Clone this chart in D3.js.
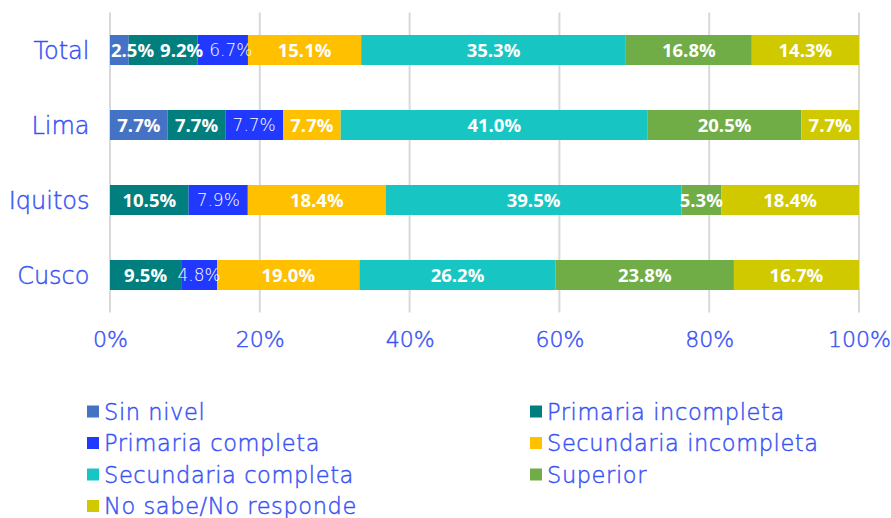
<!DOCTYPE html>
<html>
<head>
<meta charset="utf-8">
<script src="https://cdn.jsdelivr.net/npm/d3@7/dist/d3.min.js"></script>
<style>
  html, body { margin: 0; padding: 0; background: #fff; }
  svg { display: block; }
</style>
</head>
<body>
<svg id="chart" width="891" height="518"></svg>
<script>
// ---- data ----
const categories = ["Total", "Lima", "Iquitos", "Cusco"];
const seriesNames = ["Sin nivel", "Primaria incompleta", "Primaria completa",
  "Secundaria incompleta", "Secundaria completa", "Superior", "No sabe/No responde"];
const sinNivel = [2.5, 7.7, 0, 0];
const primariaIncompleta = [9.2, 7.7, 10.5, 9.5];
const primariaCompleta = [6.7, 7.7, 7.9, 4.8];
const secundariaIncompleta = [15.1, 7.7, 18.4, 19.0];
const secundariaCompleta = [35.3, 41.0, 39.5, 26.2];
const superior = [16.8, 20.5, 5.3, 23.8];
const noSabe = [14.3, 7.7, 18.4, 16.7];
const tickLabels = ["0%", "20%", "40%", "60%", "80%", "100%"];

const seriesValues = [sinNivel, primariaIncompleta, primariaCompleta,
  secundariaIncompleta, secundariaCompleta, superior, noSabe];
const colors = ["#4472C4", "#007F7E", "#2139FF", "#FFC000", "#17C6C3", "#70AD47", "#D1C900"];
const textBlue = "#3852F6";
const thinFont = "'DejaVu Sans', 'Noto Sans', sans-serif";

const svg = d3.select("#chart");
const margin = {left: 110, right: 32, top: 12.5, bottom: 205.5};
const W = 891, H = 518;
const x = d3.scaleLinear().domain([0, 1]).range([margin.left, W - margin.right]);
const y = d3.scaleBand().domain(categories).range([margin.top, H - margin.bottom]).paddingInner(0.6).paddingOuter(0.3);

function blueText(sel, size) {
  sel.attr("fill", textBlue).attr("stroke", textBlue).attr("stroke-width", 0.45)
    .style("font-family", thinFont).style("font-weight", "200").style("font-size", size);
}

// gridlines
const tickVals = tickLabels.map((t, i) => i * 0.2);
svg.append("g").selectAll("line").data(tickVals).join("line")
  .attr("x1", d => x(d)).attr("x2", d => x(d))
  .attr("y1", margin.top).attr("y2", H - margin.bottom)
  .attr("stroke", "#D9D9D9").attr("stroke-width", 2);

// x axis
const xAxis = d3.axisBottom(x).tickValues(tickVals).tickFormat((d, i) => tickLabels[i]).tickSize(0).tickPadding(0);
const gx = svg.append("g").attr("transform", `translate(0,347)`).call(xAxis);
gx.select(".domain").remove();
gx.selectAll("text").call(blueText, "22px").attr("y", 0).attr("dy", "0");

// y axis
const yAxis = d3.axisLeft(y).tickSize(0).tickPadding(20.5);
const gy = svg.append("g").attr("transform", `translate(${margin.left},0)`).call(yAxis);
gy.select(".domain").remove();
gy.selectAll("text").call(blueText, "24px").attr("dy", "0.36em");

// stacked data
const rows = categories.map((c, ci) => {
  const vals = seriesValues.map(s => s[ci]);
  const total = d3.sum(vals);
  let acc = 0;
  return vals.map((v, si) => {
    const o = {cat: c, si, v, x0: acc / total, x1: (acc + v) / total};
    acc += v;
    return o;
  });
});

const barsG = svg.append("g");
rows.forEach(row => {
  barsG.selectAll(null).data(row.filter(d => d.v > 0)).join("rect")
    .attr("x", d => x(d.x0)).attr("width", d => x(d.x1) - x(d.x0))
    .attr("y", d => y(d.cat)).attr("height", y.bandwidth())
    .attr("fill", d => colors[d.si]);
});

// labels with simple collision avoidance
const labelsG = svg.append("g");
rows.forEach(row => {
  let prevRight = null;
  row.filter(d => d.v > 0).forEach(d => {
    const light = d.si === 2;
    const t = labelsG.append("text")
      .text(d.v.toFixed(1) + "%")
      .attr("y", y(d.cat) + y.bandwidth() / 2)
      .attr("dy", "0.36em")
      .attr("fill", "#fff")
      .style("font-family", light ? thinFont : "'Open Sans', sans-serif")
      .style("font-weight", light ? "200" : "700")
      .style("font-size", light ? "17px" : "18.5px");
    const w = t.node().getComputedTextLength();
    const cx = (x(d.x0) + x(d.x1)) / 2;
    let left = cx - w / 2;
    if (prevRight === null) left = Math.max(left, x(0) + 1);
    else left = Math.max(left, prevRight + 6);
    t.attr("x", left);
    prevRight = left + w;
  });
});

// legend
const legendG = svg.append("g");
seriesNames.forEach((name, i) => {
  const col = i % 2, row = Math.floor(i / 2);
  const lx = col === 0 ? 87 : 530;
  const ly = 411.5 + row * 31.5;
  const g = legendG.append("g").attr("transform", `translate(${lx},${ly})`);
  g.append("rect").attr("x", 0).attr("y", -6).attr("width", 12).attr("height", 12).attr("fill", colors[i]);
  g.append("text").attr("x", 17).attr("y", 0).attr("dy", "0.36em").text(name)
    .call(blueText, "22.5px").style("letter-spacing", "0.6px");
});
</script>
</body>
</html>
